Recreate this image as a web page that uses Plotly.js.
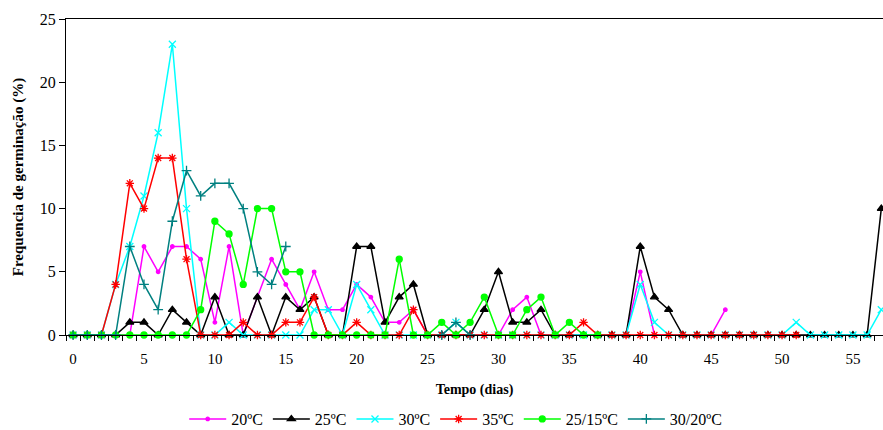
<!DOCTYPE html>
<html>
<head>
<meta charset="utf-8">
<script src="https://cdn.plot.ly/plotly-3.0.1.min.js"></script>
<style>
  html, body { margin: 0; padding: 0; background: #fff; }
  #chart { width: 883px; height: 430px; }
</style>
</head>
<body>
<div id="chart"></div>
<script>
// Germination frequency (%) per day for each temperature regime
const days = Array.from({length: 58}, (_, i) => i);

const t20 = [0,0,0,0,0,7,5,7,7,6,1,7,0,3,6,4,2,5,2,2,4,3,1,1,2,0,0,0,0,0,0,2,3,0,0,0,0,0,0,0,5,0,0,0,0,0,2];
const t25 = [0,0,0,0,1,1,0,2,1,0,3,0,0,3,0,3,2,3,0,0,7,7,1,3,4,0,0,0,0,2,5,1,1,2,0,0,0,0,0,0,7,3,2,0,0,0,0,0,0,0,0,0,0,0,0,0,0,10];
const t30 = [0,0,0,4,7,11,16,23,10,0,0,1,0,0,0,0,0,2,2,0,4,2,0,0,0,0,0,1,0,0,0,0,0,0,0,0,0,0,0,0,4,1,0,0,0,0,0,0,0,0,0,1,0,0,0,0,0,2];
const t35 = [0,0,0,4,12,10,14,14,6,0,0,0,1,0,0,1,1,3,0,0,1,0,0,0,2,0,0,0,0,0,0,0,0,0,0,0,1,0,0,0,0,0,0,0,0,0,0,0,0,0,0,0];
const t25_15 = [0,0,0,0,0,0,0,0,0,2,9,8,4,10,10,5,5,0,0,0,0,0,0,6,0,0,1,0,1,3,0,0,2,3,0,1,0,0];
const t30_20 = [0,0,0,0,7,4,2,9,13,11,12,12,10,5,4,7,null,null,null,null,null,null,null,null,null,null,0,1,0];

const names = ['20ºC', '25ºC', '30ºC', '35ºC', '25/15ºC', '30/20ºC'];
const colors = ['#FF00FF', '#000000', '#00FFFF', '#FF0000', '#00FF00', '#008080'];

function series(vals, i, marker) {
  return {
    x: days.slice(0, vals.length),
    y: vals,
    name: names[i],
    type: 'scatter',
    mode: 'lines+markers',
    cliponaxis: false,
    connectgaps: false,
    line: {color: colors[i], width: 1.5},
    marker: Object.assign({color: colors[i], line: {color: colors[i], width: 1.3}}, marker)
  };
}

const traces = [
  series(t20, 0, {symbol: 'circle', size: 3.5}),
  series(t25, 1, {symbol: 'triangle-up', size: 7}),
  series(t30, 2, {symbol: 'x-thin-open', size: 7}),
  series(t35, 3, {symbol: 'asterisk-open', size: 7}),
  series(t25_15, 4, {symbol: 'circle', size: 6}),
  series(t30_20, 5, {symbol: 'cross-thin-open', size: 7})
];

const serif = '"Liberation Serif", "Times New Roman", serif';

const layout = {
  width: 883,
  height: 430,
  margin: {l: 66, r: 0, t: 19, b: 95, autoexpand: false},
  paper_bgcolor: '#fff',
  plot_bgcolor: '#fff',
  font: {family: serif, size: 15, color: '#000'},
  showlegend: true,
  legend: {
    orientation: 'h',
    x: 0.477, xanchor: 'center',
    y: -0.266, yanchor: 'middle',
    font: {family: serif, size: 16, color: '#000'},
    itemwidth: 37,
    tracegroupgap: 0
  },
  xaxis: {
    range: [-0.5, 57.12],
    tickmode: 'array',
    tickvals: [0, 5, 10, 15, 20, 25, 30, 35, 40, 45, 50, 55],
    ticktext: ['0', '5', '10', '15', '20', '25', '30', '35', '40', '45', '50', '55'],
    ticks: '',
    ticklabelstandoff: 10,
    minor: {tickmode: 'linear', tick0: -0.5, dtick: 1, ticks: 'outside', ticklen: 5, tickcolor: '#000', tickwidth: 1},
    showgrid: false,
    zeroline: false,
    showline: true,
    mirror: true,
    linecolor: '#000',
    linewidth: 1,
    automargin: false,
    tickfont: {family: serif, size: 15},
    title: {text: '<b>Tempo (dias)</b>', font: {family: serif, size: 14}, standoff: 18}
  },
  yaxis: {
    range: [0, 25],
    tickvals: [0, 5, 10, 15, 20, 25],
    ticks: 'outside',
    ticklen: 6,
    tickcolor: '#000',
    showgrid: false,
    zeroline: false,
    showline: true,
    linecolor: '#000',
    linewidth: 1,
    automargin: false,
    tickfont: {family: serif, size: 16},
    title: {text: '<b>Frequencia de germinação (%)</b>', font: {family: serif, size: 15}, standoff: 12}
  }
};

Plotly.newPlot('chart', traces, layout, {displayModeBar: false, staticPlot: true});
</script>
</body>
</html>
